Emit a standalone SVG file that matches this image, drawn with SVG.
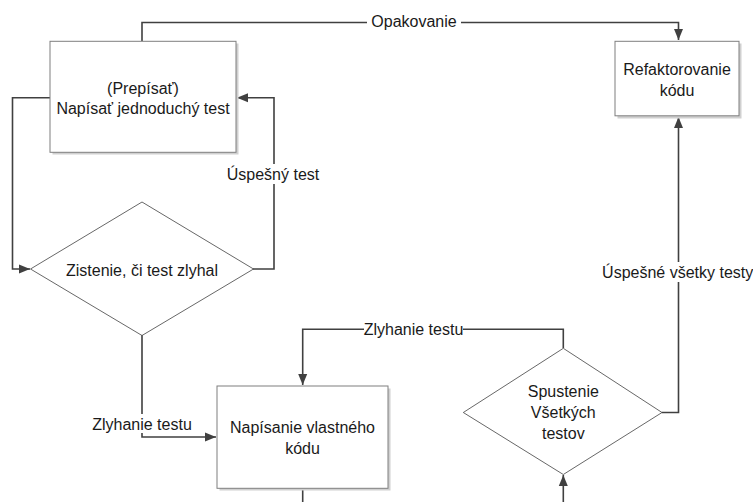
<svg xmlns="http://www.w3.org/2000/svg" width="753" height="502" viewBox="0 0 753 502">
<style>
  .box { fill: #ffffff; stroke: #7f7f7f; stroke-width: 1; }
  .shadow { fill: #d0d0d0; stroke: none; }
  .dia { fill: #ffffff; stroke: #404040; stroke-width: 0.8; }
  .conn { fill: none; stroke: #404040; stroke-width: 1.6; }
  .t { font-family: "Liberation Sans", Arial, sans-serif; font-size: 16px; fill: #1a1a1a; text-anchor: middle; }
  .bg { fill: #ffffff; stroke: none; }
</style>
<defs>
  <marker id="arr" markerUnits="userSpaceOnUse" markerWidth="12" markerHeight="12" viewBox="0 0 12 12" refX="11" refY="6" orient="auto">
    <path d="M0,1.5 L11,6 L0,10.5 Z" fill="#404040"/>
  </marker>
</defs>

<g id="connectors">
  <!-- Opakovanie -->
  <path class="conn" d="M142,41 V22.5 H678.5 V40" marker-end="url(#arr)"/>
  <!-- box1 left to diamond1 -->
  <path class="conn" d="M50,97.7 H12.5 V269 H30" marker-end="url(#arr)"/>
  <!-- diamond1 right back to box1 -->
  <path class="conn" d="M253,269 H274 V97.7 H237" marker-end="url(#arr)"/>
  <!-- diamond1 bottom to box3 -->
  <path class="conn" d="M142,335 V437 H216" marker-end="url(#arr)"/>
  <!-- diamond2 top to box3 top -->
  <path class="conn" d="M563.3,348 V329.3 H302.7 V385" marker-end="url(#arr)"/>
  <!-- box3 bottom down out -->
  <path class="conn" d="M302.7,488 V502"/>
  <!-- bottom up into diamond2 -->
  <path class="conn" d="M563.3,502 V475" marker-end="url(#arr)"/>
  <!-- diamond2 right to refactor -->
  <path class="conn" d="M662,412.5 H678.5 V117" marker-end="url(#arr)"/>

  <rect class="bg" x="367" y="13" width="94" height="20"/>
  <text class="t" x="414" y="27">Opakovanie</text>
  <rect class="bg" x="228" y="164" width="91" height="20"/>
  <text class="t" x="273" y="180">Úspešný test</text>
  <rect class="bg" x="92" y="414" width="101" height="19"/>
  <text class="t" x="142" y="430">Zlyhanie testu</text>
  <rect class="bg" x="364" y="319" width="99" height="20"/>
  <text class="t" x="413.5" y="335">Zlyhanie testu</text>
  <rect class="bg" x="602" y="262" width="151" height="20"/>
  <text class="t" x="677.7" y="277.5">Úspešné všetky testy</text>
</g>

<g id="node-napisat-test">
  <rect class="shadow" x="52.5" y="43.5" width="186" height="111"/>
  <rect class="box" x="50" y="41.3" width="186" height="111"/>
  <text class="t" x="143" y="93.5">(Prepísať)</text>
  <text class="t" x="143" y="113.5">Napísať jednoduchý test</text>
</g>

<g id="node-refaktorovanie">
  <rect class="shadow" x="617.5" y="43.5" width="124" height="75"/>
  <rect class="box" x="615" y="41.3" width="124" height="74.5"/>
  <text class="t" x="677" y="75">Refaktorovanie</text>
  <text class="t" x="677" y="96">kódu</text>
</g>

<g id="node-zistenie">
  <polygon class="dia" points="142,202 253.5,269 142,335.5 30.5,269"/>
  <text class="t" x="142" y="275.5">Zistenie, či test zlyhal</text>
</g>

<g id="node-napisanie-kodu">
  <rect class="shadow" x="219.5" y="388.5" width="171" height="102"/>
  <rect class="box" x="217" y="386" width="171" height="102.3"/>
  <text class="t" x="302.5" y="433">Napísanie vlastného</text>
  <text class="t" x="302.5" y="453.5">kódu</text>
</g>

<g id="node-spustenie">
  <polygon class="dia" points="563.3,348.3 662,412.5 563.3,474.5 463.3,412.5"/>
  <text class="t" x="563.3" y="397">Spustenie</text>
  <text class="t" x="563.3" y="417.5">Všetkých</text>
  <text class="t" x="563.3" y="439">testov</text>
</g>
</svg>
